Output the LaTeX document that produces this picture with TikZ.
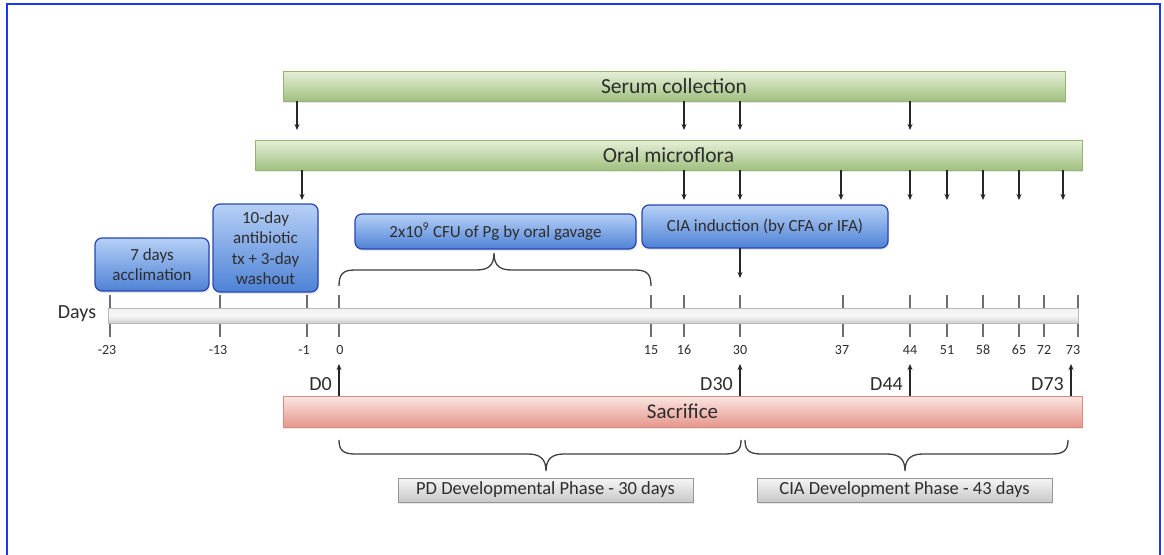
\documentclass[tikz,border=0pt]{standalone}
\usepackage{fontspec}
\setmainfont{Carlito}
\usetikzlibrary{arrows.meta,shadows}
\definecolor{frameblue}{RGB}{25,55,240}
\definecolor{grtop}{RGB}{230,240,216}
\definecolor{grbot}{RGB}{160,192,128}
\definecolor{grline}{RGB}{150,180,115}
\definecolor{bltop}{RGB}{182,208,246}
\definecolor{blbot}{RGB}{78,130,214}
\definecolor{blline}{RGB}{40,70,175}
\definecolor{rdtop}{RGB}{251,230,226}
\definecolor{rdbot}{RGB}{230,150,140}
\definecolor{rdline}{RGB}{215,140,130}
\definecolor{gytop}{RGB}{246,246,246}
\definecolor{gybot}{RGB}{200,200,200}
\definecolor{gyline}{RGB}{150,150,150}
\definecolor{txt}{RGB}{45,45,45}
\definecolor{tick}{RGB}{110,110,110}
\tikzset{
  x=1pt, y=-1pt,
  softshadow/.style={drop shadow={opacity=0.18, shadow xshift=1pt, shadow yshift=-2pt}},
  greenbar/.style={draw=grline, line width=0.8pt, top color=grtop, bottom color=grbot, softshadow,
    inner sep=0pt, outer sep=0pt, text=txt, font=\fontsize{21.5}{24}\selectfont},
  bluebox/.style={draw=blline, line width=1.2pt, rounded corners=7pt, top color=bltop, bottom color=blbot, softshadow,
    inner sep=0pt, outer sep=0pt, text=txt, align=center, font=\fontsize{17}{20.5}\selectfont},
  redbar/.style={draw=rdline, line width=0.8pt, top color=rdtop, bottom color=rdbot, softshadow,
    inner sep=0pt, outer sep=0pt, text=txt, font=\fontsize{21}{24}\selectfont},
  graybox/.style={draw=gyline, line width=0.8pt, top color=gytop, bottom color=gybot, softshadow,
    inner sep=0pt, outer sep=0pt, text=txt, font=\fontsize{18.5}{22}\selectfont},
  timebar/.style={draw=gray!55, line width=0.8pt, top color=gray!12, bottom color=gray!38, middle color=gray!6,
    inner sep=0pt, outer sep=0pt},
  arr/.style={draw=black!85, line width=1.4pt, -{Stealth[length=6pt,width=5pt]}},
  tk/.style={draw=tick, line width=1.2pt},
  tlab/.style={text=txt, font=\fontsize{14}{16}\selectfont, inner sep=0pt},
  dlab/.style={text=txt, font=\fontsize{20}{24}\selectfont, inner sep=0pt, anchor=east},
  brace/.style={draw=black!75, line width=1.3pt}
}
\begin{document}
\begin{tikzpicture}
\useasboundingbox (0,0) rectangle (1164,554);
\fill[white] (0,0) rectangle (1164,554);
\draw[frameblue, line width=2pt] (7,4) rectangle (1160,570);

% top bars
\node[greenbar, minimum width=782pt, minimum height=30pt] (serum) at (674,86) {Serum collection};
\node[greenbar, minimum width=827pt, minimum height=30pt] (oral) at (668.5,155) {Oral microflora};

% blue boxes
\node[bluebox, minimum width=114pt, minimum height=53pt] (acc) at (152,264.5) {7 days\\acclimation};
\node[bluebox, minimum width=105pt, minimum height=88pt] (anti) at (265.5,248) {10-day\\antibiotic\\tx + 3-day\\washout};
\node[bluebox, minimum width=281pt, minimum height=35pt] (cfu) at (495.5,231.5) {2x10\textsuperscript{9} CFU of Pg by oral gavage};
\node[bluebox, minimum width=246pt, minimum height=43pt] (cia) at (765,226.5) {CIA induction (by CFA or IFA)};

% ticks (behind the bar)
\foreach \xx/\lab/\off in {110/-23/-3, 220/-13/-2, 307/-1/-3, 339/0/1, 651/15/0, 684/16/0, 740/30/0, 843/37/-1, 910/44/0, 947/51/0, 983/58/0, 1019/65/0, 1044/72/0, 1078/73/-5}{
  \coordinate (t\lab) at (\xx,295);
  \draw[tk] (t\lab) -- ++(0,42);
  \node[tlab] at (\xx+\off,350) {\lab};
}

% timeline
\node[timebar, minimum width=970pt, minimum height=15pt] (tl) at (593,315.5) {};
\node[text=txt, font=\fontsize{20}{24}\selectfont, inner sep=0pt] (days) at (77,314) {Days};

% sacrifice
\node[redbar, minimum width=799pt, minimum height=31pt] (sac) at (682.5,411.5) {Sacrifice};

% phase boxes
\node[graybox, minimum width=295pt, minimum height=24pt] (pd) at (545.5,490) {PD Developmental Phase - 30 days};
\node[graybox, minimum width=295pt, minimum height=24pt] (ciad) at (904.5,490) {CIA Development Phase - 43 days};

% serum arrows
\foreach \xx in {297,684,740,910}{
  \draw[arr] (serum.south -| \xx,0) -- ++(0,29);
}
% oral arrows
\foreach \xx in {302,684,740,841,910,947,983,1019,1063}{
  \draw[arr] (oral.south -| \xx,0) -- ++(0,30);
}
% CIA arrow
\draw[arr] (cia.south -| t30) -- ++(0,30);

% sacrifice arrows
\foreach \xx/\lab in {339/D0, 740/D30, 910/D44, 1071/D73}{
  \draw[arr] (sac.north -| \xx,0) -- ++(0,-32);
  \node[dlab] at (\xx-7,384) {\lab};
}

% upper brace
\draw[brace] (339,286) .. controls (339,274) and (343,270) .. (355,270) -- (476,270)
  .. controls (488,270) and (494,266) .. (494,253)
  .. controls (494,266) and (500,270) .. (512,270) -- (635,270)
  .. controls (647,270) and (651,274) .. (651,286);

% lower braces
\draw[brace] (339,440) .. controls (339,450) and (343,454) .. (355,454) -- (528,454)
  .. controls (540,454) and (546,459) .. (546,471)
  .. controls (546,459) and (552,454) .. (564,454) -- (725,454)
  .. controls (737,454) and (741,450) .. (741,440);
\draw[brace] (745,440) .. controls (745,450) and (749,454) .. (761,454) -- (887,454)
  .. controls (899,454) and (905,459) .. (905,471)
  .. controls (905,459) and (911,454) .. (923,454) -- (1052,454)
  .. controls (1064,454) and (1068,450) .. (1068,440);
\end{tikzpicture}
\end{document}
